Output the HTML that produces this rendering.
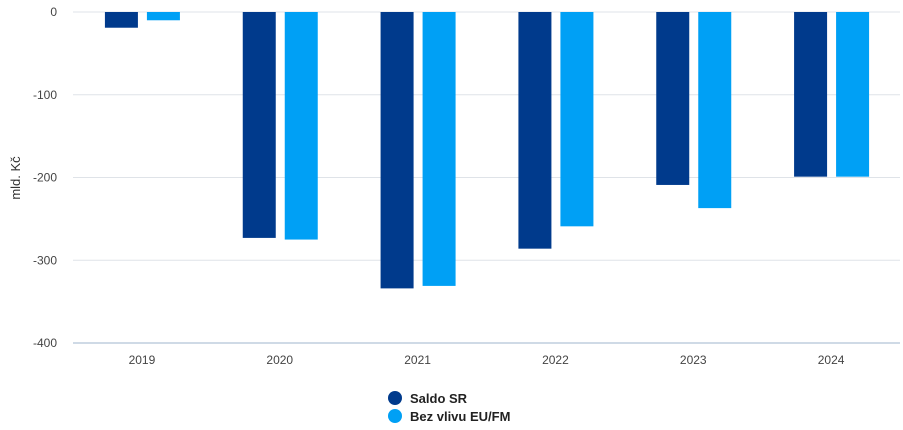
<!DOCTYPE html>
<html><head><meta charset="utf-8"><style>
body{margin:0;background:#fff;font-family:"Liberation Sans",sans-serif;}
svg text{font-family:"Liberation Sans",sans-serif;}
</style></head><body>
<svg width="903" height="425">
<g id="grid"></g><g id="bars"></g><g id="labels"></g>
<text transform="translate(20,178) rotate(-90)" text-anchor="middle" font-size="13" fill="#333">mld. Kč</text>
<g>
<g><circle cx="395" cy="398" r="7" fill="#003a8c"/><text x="410" y="403" font-size="13" font-weight="bold" fill="#222">Saldo SR</text></g>
<g><circle cx="395" cy="416" r="7" fill="#00a0f5"/><text x="410" y="421" font-size="13" font-weight="bold" fill="#222">Bez vlivu EU/FM</text></g>
</g>
</svg>
<script>
const categories=["2019","2020","2021","2022","2023","2024"];
const saldoSR=[-19,-273,-334,-286,-209,-199];
const bezVlivu=[-10,-275,-331,-259,-237,-199];
const yTicks=[0,-100,-200,-300,-400];
const NS="http://www.w3.org/2000/svg";
const left=73,right=900,top0=12,bot=343;
const y=v=>top0+(0-v)/400*(bot-top0);
const bw=(right-left)/categories.length;
const x=i=>left+bw*i+bw/2;
function mk(t,a,p){const e=document.createElementNS(NS,t);for(const k in a)e.setAttribute(k,a[k]);p.appendChild(e);return e;}
const g=document.getElementById('grid'),b=document.getElementById('bars'),l=document.getElementById('labels');
yTicks.forEach(t=>{
const ln=mk('line',{x1:left,x2:right,y1:y(t),y2:y(t),stroke:t===-400?'#9fb6cc':'#dfe3e8','stroke-width':1},g);


const tx=mk('text',{x:57,y:y(t)+4,'text-anchor':'end','font-size':12,fill:'#444'},l);
tx.textContent=t;


});
categories.forEach((c,i)=>{
const r1=mk('rect',{x:x(i)-37,y:y(0),width:33,height:y(saldoSR[i])-y(0),fill:'#003a8c'},b);


const r2=mk('rect',{x:x(i)+5,y:y(0),width:33,height:y(bezVlivu[i])-y(0),fill:'#00a0f5'},b);


const tx=mk('text',{x:x(i),y:364,'text-anchor':'middle','font-size':12,fill:'#444'},l);
tx.textContent=c;


});
</script>
</body></html>
